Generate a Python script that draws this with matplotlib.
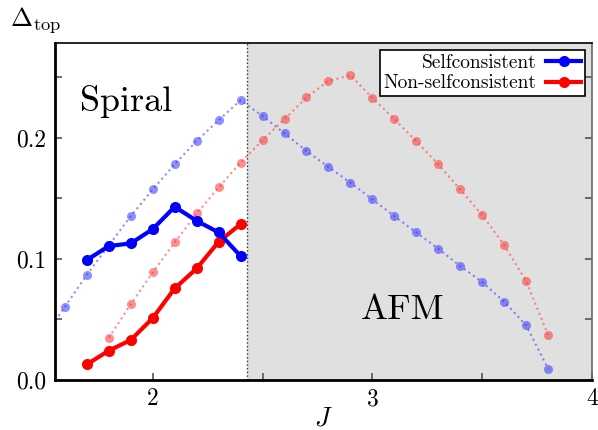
import numpy as np
import matplotlib
matplotlib.use('Agg')
import matplotlib.pyplot as plt

plt.rcParams['font.family'] = ['cmr10', 'DejaVu Serif']
plt.rcParams['mathtext.fontset'] = 'cm'
plt.rcParams['axes.formatter.use_mathtext'] = True

# Selfconsistent (solid) data
J_sc = [1.7, 1.8, 1.9, 2.0, 2.1, 2.2, 2.3, 2.4]
blue_sc = [0.099, 0.1105, 0.1127, 0.1245, 0.1429, 0.1313, 0.1217, 0.1022]
red_sc = [0.0129, 0.0242, 0.033, 0.0511, 0.0756, 0.092, 0.114, 0.1286]

# Faint dotted curves
J_blue = [1.5, 1.6, 1.7, 1.8, 1.9, 2.0, 2.1, 2.2, 2.3, 2.4, 2.5, 2.6, 2.7,
          2.8, 2.9, 3.0, 3.1, 3.2, 3.3, 3.4, 3.5, 3.6, 3.7, 3.8]
blue_dot = [0.034, 0.0604, 0.0868, 0.111, 0.1352, 0.1572, 0.178, 0.1973, 0.2143,
            0.2308, 0.2177, 0.2035, 0.1889, 0.1758, 0.1627, 0.149, 0.1352,
            0.1217, 0.1083, 0.094, 0.0808, 0.0646, 0.0451, 0.0093]
J_red = [1.8, 1.9, 2.0, 2.1, 2.2, 2.3, 2.4, 2.5, 2.6, 2.7, 2.8, 2.9, 3.0,
         3.1, 3.2, 3.3, 3.4, 3.5, 3.6, 3.7, 3.8]
red_dot = [0.0349, 0.0624, 0.0888, 0.1135, 0.1374, 0.1588, 0.1794, 0.1978,
           0.2152, 0.2331, 0.2468, 0.2512, 0.2327, 0.2152, 0.197, 0.1778,
           0.1572, 0.136, 0.1113, 0.0816, 0.0371]

J_boundary = 2.43
xticks = [2, 2.5, 3, 3.5, 4]
xticklabels = ['2', '', '3', '', '4']
yticks = [0.0, 0.05, 0.1, 0.15, 0.2, 0.25]
yticklabels = ['0.0', '', '0.1', '', '0.2', '']

fig = plt.figure(figsize=(5.98, 4.30), dpi=100)
ax = fig.add_axes([0.092, 0.1163, 0.898, 0.7837])

ax.axvspan(J_boundary, 4.2, color='#e0e0e0', zorder=0, lw=0)
ax.axvline(J_boundary, color='#333333', ls=':', lw=1.0, zorder=1)

ax.plot(J_blue, blue_dot, ':', color='#3333ff', lw=1.5, alpha=0.55,
        marker='o', ms=6.5, mec='none', zorder=2)
ax.plot(J_red, red_dot, ':', color='#ff3333', lw=1.5, alpha=0.55,
        marker='o', ms=6.5, mec='none', zorder=2)

ax.plot(J_sc, blue_sc, '-', color='#0000ff', lw=3, marker='o', ms=8,
        mec='none', label='Selfconsistent', zorder=4)
ax.plot(J_sc, red_sc, '-', color='#ff0000', lw=3, marker='o', ms=8,
        mec='none', label='Non-selfconsistent', zorder=3)

ax.set_xlim(1.555, 4.0)
ax.set_ylim(0.0, 0.278)
ax.set_xticks(xticks)
ax.set_xticklabels(xticklabels)
ax.set_yticks(yticks)
ax.set_yticklabels(yticklabels)
ax.tick_params(direction='in', length=5, width=1.2, color='#555555',
               labelsize=17, right=True, top=False, pad=6)

for side in ['left', 'bottom']:
    ax.spines[side].set_linewidth(2)
    ax.spines[side].set_color('black')
ax.spines['top'].set_linewidth(1.2)
ax.spines['right'].set_linewidth(1.2)
ax.spines['right'].set_color('#666666')

ax.text(1.67, 0.23, 'Spiral', fontsize=26, va='center', ha='left')
ax.text(3.14, 0.058, 'AFM', fontsize=26, va='center', ha='center')

fig.text(0.06, 0.953, r'$\Delta_{\rm top}$', fontsize=19, ha='center', va='center')
fig.text(0.54, 0.026, r'$J$', fontsize=19, ha='center', va='center')

leg = ax.legend(loc='upper right', markerfirst=False, fontsize=14,
                fancybox=False, framealpha=1, edgecolor='black',
                handlelength=1.8, borderpad=0.2, labelspacing=0.15,
                handletextpad=0.5, borderaxespad=0.35)
leg.get_frame().set_linewidth(1.2)

fig.savefig('out.png', dpi=100)
